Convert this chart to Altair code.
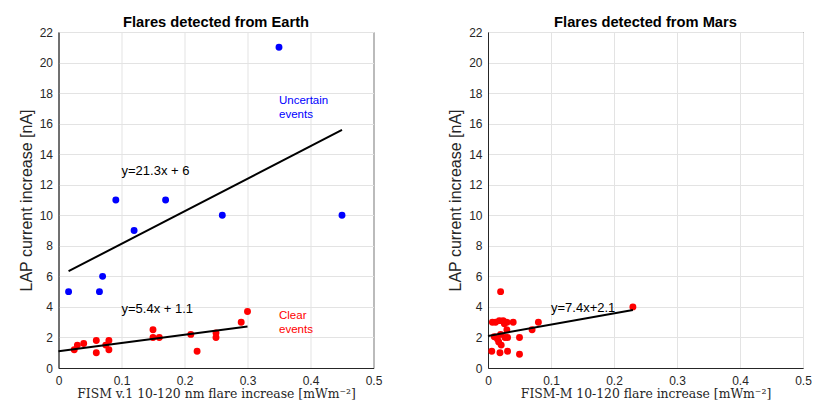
import altair as alt
import pandas as pd

# ---------------- data ----------------
# Flares detected from Earth
earth_unc_x = [0.016, 0.065, 0.070, 0.091, 0.120, 0.170, 0.260, 0.350, 0.450]
earth_unc_y = [5.0, 5.0, 6.0, 11.0, 9.0, 11.0, 10.0, 21.0, 10.0]
earth_clr_x = [0.025, 0.030, 0.040, 0.060, 0.060, 0.075, 0.080, 0.080, 0.150,
               0.150, 0.160, 0.210, 0.220, 0.250, 0.250, 0.290, 0.300]
earth_clr_y = [1.2, 1.5, 1.6, 1.8, 1.0, 1.5, 1.8, 1.2, 2.5,
               2.0, 2.0, 2.2, 1.1, 2.3, 2.0, 3.0, 3.7]
earth_unc_fit_x = [0.016, 0.45]
earth_unc_fit_y = [6.34, 15.59]
earth_clr_fit_x = [0.0, 0.30]
earth_clr_fit_y = [1.10, 2.72]

# Flares detected from Mars
mars_x = [0.020, 0.007, 0.012, 0.018, 0.024, 0.026, 0.030, 0.040, 0.080, 0.070,
          0.030, 0.010, 0.020, 0.027, 0.031, 0.015, 0.017, 0.021, 0.050, 0.006,
          0.019, 0.031, 0.050, 0.230]
mars_y = [5.0, 3.0, 3.0, 3.1, 3.1, 2.9, 3.0, 3.0, 3.0, 2.5,
          2.5, 2.05, 2.2, 2.0, 2.0, 1.9, 1.7, 1.5, 2.0, 1.1,
          1.0, 1.1, 0.9, 4.0]
mars_fit_x = [0.0, 0.23]
mars_fit_y = [2.10, 3.80]

# annotations
earth_eq = ["y=21.3x + 6", "y=5.4x + 1.1"]
earth_eq_x = [0.100, 0.100]
earth_eq_y = [12.93, 3.87]
earth_note = ["Uncertain\nevents", "Clear\nevents"]
earth_note_x = [0.350, 0.350]
earth_note_y = [17.45, 3.42]
earth_note_grp = ["uncertain", "clear"]
mars_eq = ["y=7.4x+2.1"]
mars_eq_x = [0.100]
mars_eq_y = [3.9]

x_ticks = [0, 0.1, 0.2, 0.3, 0.4, 0.5]
y_ticks = [0, 2, 4, 6, 8, 10, 12, 14, 16, 18, 20, 22]

# ---------------- tables ----------------
def pts(xs, ys, grp):
    return pd.DataFrame({"x": xs, "y": ys, "grp": [grp] * len(xs)})

earth_pts = pd.concat([pts(earth_unc_x, earth_unc_y, "uncertain"),
                       pts(earth_clr_x, earth_clr_y, "clear")])
mars_pts = pts(mars_x, mars_y, "clear")
earth_lines = pd.concat([pts(earth_unc_fit_x, earth_unc_fit_y, "uncertain"),
                         pts(earth_clr_fit_x, earth_clr_fit_y, "clear")])
mars_lines = pts(mars_fit_x, mars_fit_y, "clear")
earth_eq_df = pd.DataFrame({"x": earth_eq_x, "y": earth_eq_y, "t": earth_eq})
mars_eq_df = pd.DataFrame({"x": mars_eq_x, "y": mars_eq_y, "t": mars_eq})
earth_note_df = pd.DataFrame({"x": earth_note_x, "y": earth_note_y,
                              "t": earth_note, "grp": earth_note_grp})

color_scale = alt.Scale(domain=["uncertain", "clear"],
                        range=["#0000ff", "#ff0000"])


def panel(p_df, l_df, eq_df, note_df, title, xtitle):
    def xenc():
        return alt.X("x:Q", scale=alt.Scale(domain=[0, 0.5], nice=False),
                     axis=alt.Axis(values=x_ticks, format="~g", title=xtitle,
                                   tickCount=6))

    def yenc():
        return alt.Y("y:Q", scale=alt.Scale(domain=[0, 22], nice=False),
                     axis=alt.Axis(values=y_ticks, tickCount=12,
                                   title="LAP current increase [nA]"))

    points = alt.Chart(p_df).mark_circle(size=48, opacity=1).encode(
        x=xenc(), y=yenc(),
        color=alt.Color("grp:N", scale=color_scale, legend=None),
    )
    lines = alt.Chart(l_df).mark_line(color="black", strokeWidth=2).encode(
        x=xenc(), y=yenc(), detail="grp:N"
    )
    eqs = alt.Chart(eq_df).mark_text(align="left", baseline="middle",
                                     fontSize=13, color="black",
                                     font="Liberation Sans").encode(
        x=xenc(), y=yenc(), text="t:N",
    )
    layers = [points, lines, eqs]
    if note_df is not None:
        notes = alt.Chart(note_df).mark_text(align="left", baseline="middle",
                                             lineBreak="\n", lineHeight=14,
                                             fontSize=11.5,
                                             font="Liberation Sans").encode(
            x=xenc(), y=yenc(), text="t:N",
            color=alt.Color("grp:N", scale=color_scale, legend=None),
        )
        layers.append(notes)
    return alt.layer(*layers).properties(
        width=315, height=336,
        title=alt.TitleParams(title, fontSize=14.7, fontWeight="bold",
                              font="Liberation Sans", offset=-4, color="black"),
    )


left = panel(earth_pts, earth_lines, earth_eq_df, earth_note_df,
             "Flares detected from Earth",
             "FISM v.1 10-120 nm flare increase [mWm\u207b\u00b2]")
right = panel(mars_pts, mars_lines, mars_eq_df, None,
              "Flares detected from Mars",
              "FISM-M 10-120 flare increase [mWm\u207b\u00b2]")

chart = alt.hconcat(left, right, spacing=64.5).configure(
    padding={"left": 9.5, "top": 6, "right": 5, "bottom": 5},
    font="Liberation Sans",
).configure_view(
    stroke="#262626", strokeWidth=1
).configure_axis(
    grid=True, gridColor="#e3e3e3", gridWidth=1,
    domainColor="#262626", domainWidth=1,
    ticks=False, labelOverlap=False,
    labelFont="Liberation Sans", labelFontSize=12, labelColor="#262626",
    titleColor="#262626", titleFontWeight="normal",
).configure_axisX(
    labelPadding=7, titleFont="DejaVu Serif", titleFontSize=12.4, titlePadding=1,
    labelFlush=False,
).configure_axisY(
    labelPadding=6, titleFont="Liberation Sans", titleFontSize=16, titlePadding=5,
)

chart.save("out.html", embed_options={"renderer": "svg", "actions": False})
